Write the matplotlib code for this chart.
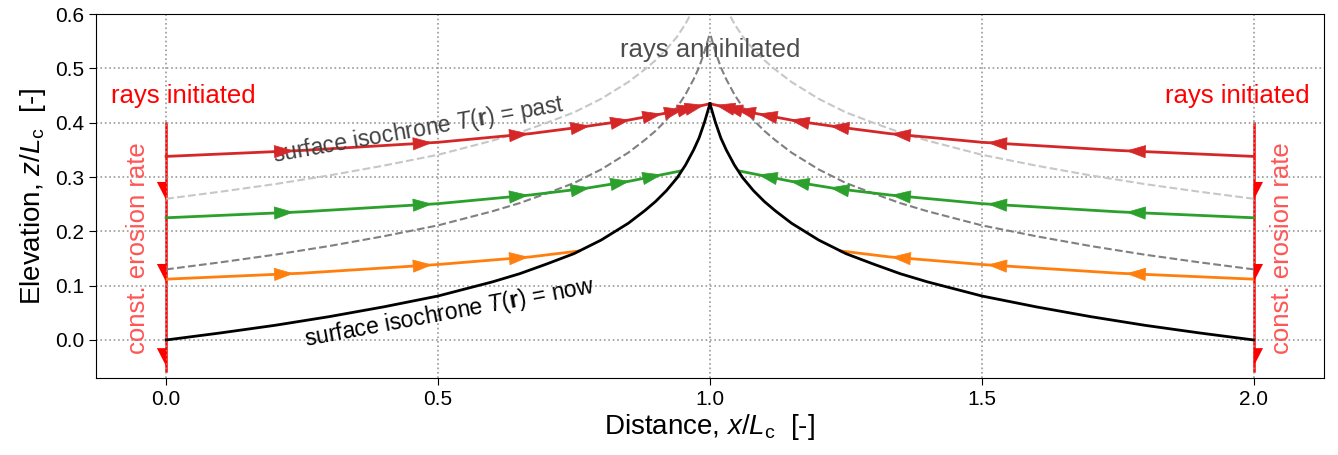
import numpy as np
import matplotlib
matplotlib.use("Agg")
import matplotlib.pyplot as plt

plt.rcParams['font.family'] = ['Liberation Sans', 'DejaVu Sans']
plt.rcParams['mathtext.fontset'] = 'custom'
plt.rcParams['mathtext.rm'] = 'Liberation Sans'
plt.rcParams['mathtext.it'] = 'Liberation Sans:italic'
plt.rcParams['mathtext.bf'] = 'Liberation Sans:bold'

# surface isochrones (left half, x/Lc from 0 to 1), mirrored for the right half
surf_x = [0.0, 0.1, 0.2, 0.3, 0.4, 0.5, 0.6, 0.65, 0.7, 0.75, 0.8, 0.85, 0.88, 0.9,
          0.92, 0.94, 0.955, 0.97, 0.98, 0.99, 0.995, 1.0]
surf_now = [0.0, 0.013, 0.027, 0.043, 0.061, 0.081, 0.107, 0.122, 0.140, 0.159, 0.184,
            0.215, 0.238, 0.255, 0.275, 0.299, 0.322, 0.350, 0.372, 0.401, 0.418, 0.435]
surf_mid = [0.13, 0.143, 0.157, 0.173, 0.191, 0.211, 0.237, 0.252, 0.270, 0.289, 0.314,
            0.345, 0.368, 0.385, 0.405, 0.429, 0.452, 0.480, 0.502, 0.531, 0.548, 0.565]
surf_past = [0.26, 0.273, 0.287, 0.303, 0.321, 0.341, 0.367, 0.382, 0.400, 0.419, 0.444,
             0.475, 0.498, 0.515, 0.535, 0.559, 0.582, 0.610, 0.632, 0.661, 0.678, 0.695]

# rays (left half)
red_x = [0.0, 0.25, 0.5, 0.67, 0.77, 0.84, 0.91, 0.96, 1.0]
red_z = [0.338, 0.349, 0.364, 0.380, 0.393, 0.403, 0.416, 0.426, 0.435]
green_x = [0.0, 0.25, 0.5, 0.67, 0.77, 0.85, 0.945]
green_z = [0.225, 0.236, 0.251, 0.267, 0.279, 0.292, 0.311]
orange_x = [0.0, 0.25, 0.5, 0.67, 0.76]
orange_z = [0.112, 0.123, 0.139, 0.153, 0.164]

# arrow tip positions along the rays
arrow_x = [0.235, 0.49, 0.667, 0.78, 0.853, 0.912, 0.952, 0.976, 0.99]

# half arrows on the boundaries (tips)
bnd_tips = [0.258, 0.107, -0.048]
bnd_top, bnd_bot = 0.40, -0.058

fig, ax = plt.subplots(figsize=(13.38, 4.55), dpi=100)
fig.subplots_adjust(left=0.0717, right=0.9895, top=0.969, bottom=0.1692)

def mirror(xs):
    return [2.0 - v for v in xs]

# dashed past isochrones
for zz, col in [(surf_past, '0.78'), (surf_mid, '0.5')]:
    ax.plot(surf_x, zz, ls='--', color=col, lw=1.5, zorder=2)
    ax.plot(mirror(surf_x), zz, ls='--', color=col, lw=1.5, zorder=2)

rays = [(red_x, red_z, '#d62728'), (green_x, green_z, '#2ca02c'), (orange_x, orange_z, '#ff7f0e')]
for xs, zs, col in rays:
    ax.plot(xs, zs, color=col, lw=2, zorder=3)
    ax.plot(mirror(xs), zs, color=col, lw=2, zorder=3)
    for xa in arrow_x:
        if xa >= xs[-1] - 0.005:
            continue
        zt = np.interp(xa, xs, zs)
        zb = np.interp(xa - 0.01, xs, zs)
        ap = dict(arrowstyle='-|>,head_length=0.6,head_width=0.2', color=col,
                  lw=0.5, shrinkA=0, shrinkB=0, mutation_scale=22)
        ax.annotate('', xy=(xa, zt), xytext=(xa - 0.01, zb), arrowprops=ap, zorder=4)
        ax.annotate('', xy=(2 - xa, zt), xytext=(2 - xa + 0.01, zb), arrowprops=ap, zorder=4)

ax.plot(surf_x, surf_now, color='black', lw=2, zorder=5)
ax.plot(mirror(surf_x), surf_now, color='black', lw=2, zorder=5)

# boundaries where rays are initiated
for xb, shp in [(0.0, 'left'), (2.0, 'right')]:
    ax.plot([xb, xb], [bnd_top, bnd_bot], color='red', lw=1.8, zorder=1)
    for tip in bnd_tips:
        ax.arrow(xb, tip + 0.033, 0, -0.033, shape=shp, width=0, head_width=0.034,
                 head_length=0.033, length_includes_head=True, color='red', lw=0, zorder=6)

ax.text(0.031, 0.45, 'rays initiated', color='red', fontsize=18.5, ha='center', va='center')
ax.text(1.969, 0.45, 'rays initiated', color='red', fontsize=18.5, ha='center', va='center')
ax.text(-0.052, 0.17, 'const. erosion rate', color='#ff5555', fontsize=18.5, rotation=90,
        ha='center', va='center')
ax.text(2.052, 0.17, 'const. erosion rate', color='#ff5555', fontsize=18.5, rotation=90,
        ha='center', va='center')
ax.text(1.0, 0.533, 'rays annihilated', color='0.3', fontsize=18.5, ha='center', va='center')
ax.text(0.465, 0.386, r'surface isochrone $T(\mathbf{r})$ = past', color='0.25', fontsize=16.5,
        rotation=10, ha='center', va='center')
ax.text(0.522, 0.050, r'surface isochrone $T(\mathbf{r})$ = now', color='black', fontsize=16.5,
        rotation=10.5, ha='center', va='center')

ax.set_xlim(-0.129, 2.129)
ax.set_ylim(-0.07, 0.6)
ax.set_xticks([0.0, 0.5, 1.0, 1.5, 2.0])
ax.set_yticks([0.0, 0.1, 0.2, 0.3, 0.4, 0.5, 0.6])
ax.xaxis.set_major_formatter(matplotlib.ticker.FormatStrFormatter('%.1f'))
ax.yaxis.set_major_formatter(matplotlib.ticker.FormatStrFormatter('%.1f'))
ax.tick_params(labelsize=15, length=5)
ax.grid(True, ls=':', color='0.6', lw=1.2)
ax.set_xlabel(r'Distance, $x/L_\mathrm{c}$  [-]', fontsize=20, labelpad=2)
ax.set_ylabel(r'Elevation, $z/L_\mathrm{c}$  [-]', fontsize=20, labelpad=5)

fig.savefig('out.png', dpi=100)
